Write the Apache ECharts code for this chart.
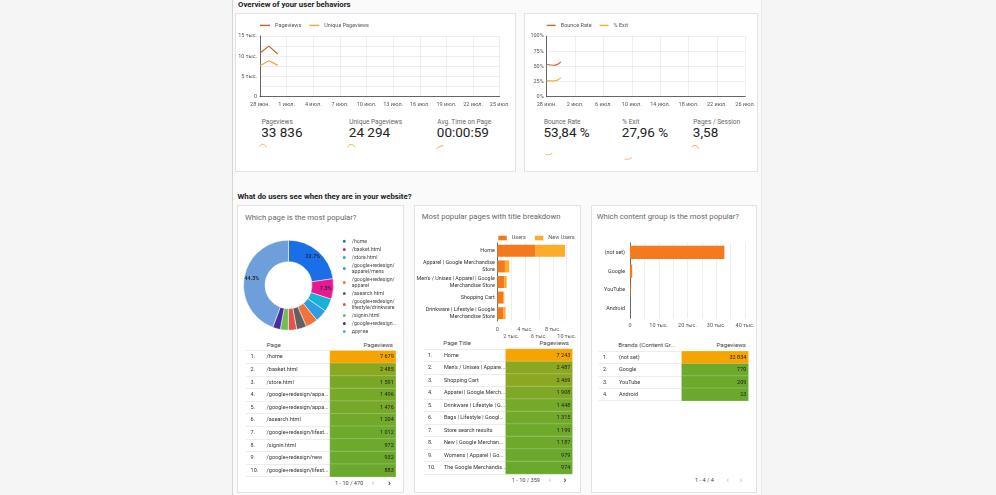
<!DOCTYPE html>
<html><head><meta charset="utf-8">
<script src="https://cdn.jsdelivr.net/npm/echarts@6/dist/echarts.min.js"></script>
<style>
html,body{margin:0;padding:0;width:996px;height:495px;overflow:hidden;background:#f5f5f5;font-family:Roboto,"Noto Sans",sans-serif;}
#panel{position:absolute;left:232px;top:0;width:528px;height:495px;background:#fafafa;border-left:1.5px solid #d6d6d6;border-right:1px solid #e8e8e8;}
.card{position:absolute;background:#fff;border:1px solid #e2e2e2;box-sizing:border-box;}
.t{position:absolute;white-space:nowrap;line-height:1;}
#chart{position:absolute;left:0;top:0;width:996px;height:495px;z-index:5;}
</style></head>
<body>
<div id="panel"></div>
<div id="chrome"></div>
<div id="chart"></div>
<script>
// ---------------- DATA ----------------
const lineDates1 = ['28 июн.','29 июн.','30 июн.','1 июл.','2 июл.','3 июл.','4 июл.','5 июл.','6 июл.','7 июл.','8 июл.','9 июл.','10 июл.','11 июл.','12 июл.','13 июл.','14 июл.','15 июл.','16 июл.','17 июл.','18 июл.','19 июл.','20 июл.','21 июл.','22 июл.','23 июл.','24 июл.','25 июл.'];
const lineDates2 = ['28 июн.','29 июн.','30 июн.','1 июл.','2 июл.','3 июл.','4 июл.','5 июл.','6 июл.','7 июл.','8 июл.','9 июл.','10 июл.','11 июл.','12 июл.','13 июл.','14 июл.','15 июл.','16 июл.','17 июл.','18 июл.','19 июл.','20 июл.','21 июл.','22 июл.','23 июл.','24 июл.','25 июл.','26 июл.'];
const pageviews = [10800, 12500, 10536];
const uniquePageviews = [7650, 8900, 7744];
const avgTimeSec = [50, 58, 61];
const bounceRate = [53.5, 51.8, 57.5];
const exitRate = [26.5, 26.0, 31.0];
const pagesPerSession = [3.55, 3.7, 3.45];

const kpiLabels1 = ['Pageviews', 'Unique Pageviews', 'Avg. Time on Page'];
const kpiValues1 = ['33 836', '24 294', '00:00:59'];
const kpiLabels2 = ['Bounce Rate', '% Exit', 'Pages / Session'];
const kpiValues2 = ['53,84 %', '27,96 %', '3,58'];

const pieNames = ['/home','/basket.html','/store.html','/google+redesign/apparel/mens','/google+redesign/apparel','/asearch.html','/google+redesign/lifestyle/drinkware','/signin.html','/google+redesign/new','другие'];
const pieLegendText = ['/home','/basket.html','/store.html','/google+redesign/\napparel/mens','/google+redesign/\napparel','/asearch.html','/google+redesign/\nlifestyle/drinkware','/signin.html','/google+redesign...','другие'];
const pieValues = [7679, 2485, 1591, 1496, 1476, 1204, 1012, 972, 932, 14989];

const t1Pages = ['/home','/basket.html','/store.html','/google+redesign/appa...','/google+redesign/appa...','/asearch.html','/google+redesign/lifest...','/signin.html','/google+redesign/new','/google+redesign/lifest...'];
const t1Views = [7679, 2485, 1591, 1496, 1476, 1204, 1012, 972, 932, 883];

const titleCats = ['Home','Apparel | Google Merchandise\nStore','Men\'s / Unisex | Apparel | Google\nMerchandise Store','Shopping Cart','Drinkware | Lifestyle | Google\nMerchandise Store'];
const usersVals = [5430, 1100, 1000, 860, 860];
const newUsersVals = [4320, 620, 350, 150, 330];

const t2Titles = ['Home','Men\'s / Unisex | Appare...','Shopping Cart','Apparel | Google Merch...','Drinkware | Lifestyle | G...','Bags | Lifestyle | Googl...','Store search results','New | Google Merchan...','Womens | Apparel | Go...','The Google Merchandis...'];
const t2Views = [7243, 2487, 2469, 1908, 1448, 1315, 1199, 1187, 979, 974];

const groupCats = ['(not set)','Google','YouTube','Android'];
const groupVals = [32834, 770, 209, 23];
const t3Brands = ['(not set)','Google','YouTube','Android'];
const t3Views = [32834, 770, 209, 23];

// ---------------- CHROME (cards & text) ----------------
const chrome = document.getElementById('chrome');
function card(l, t, w, h) { const d = document.createElement('div'); d.className = 'card'; Object.assign(d.style, {left: l+'px', top: t+'px', width: w+'px', height: h+'px'}); chrome.appendChild(d); }
function txt(s, x, cy, size, color, o) {
  o = o || {};
  const d = document.createElement('div'); d.className = 't'; d.textContent = s;
  Object.assign(d.style, {left: x+'px', top: (cy - size/2)+'px', fontSize: size+'px', color: color, fontWeight: o.bold ? '700' : '400'});
  if (o.right) d.style.transform = 'translateX(-100%)';
  chrome.appendChild(d);
}
card(235, 13, 281, 159);
card(523.5, 13, 234, 159);
card(236.5, 205, 167, 288);
card(413.5, 205, 167, 288);
card(591, 205, 166, 288);

txt('Overview of your user behaviors', 238, 4.6, 7.8, '#222', {bold: true});
txt('What do users see when they are in your website?', 237.5, 196.6, 7.8, '#222', {bold: true});
txt('Which page is the most popular?', 245, 217.7, 7.7, '#666');
txt('Most popular pages with title breakdown', 421.7, 216.7, 7.7, '#666');
txt('Which content group is the most popular?', 596.7, 216.7, 7.7, '#666');

[261.7, 349.3, 437.3].forEach((x, i) => { txt(kpiLabels1[i], x, 122.3, 6.5, '#666'); txt(kpiValues1[i], x - 0.5, 133, 13.5, '#222'); });
[544, 622.3, 693.3].forEach((x, i) => { txt(kpiLabels2[i], x, 122.3, 6.5, '#666'); txt(kpiValues2[i], x - 0.5, 133, 13.5, '#222'); });

txt('Page', 266.7, 345, 6.2, '#444'); txt('Pageviews', 393, 345, 6.2, '#444', {right: true});
txt('Page Title', 443.3, 343.5, 6.2, '#444'); txt('Pageviews', 569, 343.5, 6.2, '#444', {right: true});
txt('Brands (Content Gr...', 618.3, 345, 6.2, '#444'); txt('Pageviews', 746, 345, 6.2, '#444', {right: true});

txt('1 - 10 / 470', 335, 484, 5.6, '#444'); txt('‹', 371.5, 483.5, 9, '#bbb'); txt('›', 388, 483.5, 9, '#222', {bold: true});
txt('1 - 10 / 359', 511.7, 481, 5.6, '#444'); txt('‹', 548.5, 480.5, 9, '#bbb'); txt('›', 563.5, 480.5, 9, '#222', {bold: true});
txt('1 - 4 / 4', 695, 481, 5.6, '#444'); txt('‹', 726.3, 480.5, 9, '#bbb'); txt('›', 739.5, 480.5, 9, '#bbb');

// ---------------- CHART ----------------
const FONT = 'Roboto';
const lbl = {fontSize: 5.5, color: '#555', fontFamily: FONT};
const gridLine = {lineStyle: {color: '#e3e3e3', width: 0.6}};
const axisDark = {show: true, lineStyle: {color: '#444', width: 0.8}};
const grids = [], xAxes = [], yAxes = [], series = [], legends = [], visualMaps = [];
function addGrid(g, x, y) { grids.push(Object.assign({containLabel: false}, g)); const i = grids.length - 1; x.gridIndex = i; y.gridIndex = i; xAxes.push(x); yAxes.push(y); return i; }
const fmt = v => String(v).replace(/\B(?=(\d{3})+(?!\d))/g, ' ');

// Line chart 1
let g = addGrid({left: 260, top: 36, width: 239.7, height: 60.7},
  {type: 'category', data: lineDates1, boundaryGap: false, axisLine: axisDark, axisTick: {show: false}, axisLabel: Object.assign({interval: 2, margin: 4.5}, lbl), splitLine: Object.assign({show: true, interval: 2}, gridLine)},
  {type: 'value', min: 0, max: 15000, interval: 2500, axisLine: axisDark, axisTick: {show: false}, axisLabel: Object.assign({margin: 3, formatter: v => v % 5000 ? '' : (v ? (v/1000) + ' тыс.' : '0')}, lbl), splitLine: gridLine});
series.push({type: 'line', name: 'Pageviews', xAxisIndex: g, yAxisIndex: g, data: pageviews, symbol: 'none', lineStyle: {width: 1.2, color: '#c4622d'}, itemStyle: {color: '#c4622d'}});
series.push({type: 'line', name: 'Unique Pageviews', xAxisIndex: g, yAxisIndex: g, data: uniquePageviews, symbol: 'none', lineStyle: {width: 1.2, color: '#e9a83c'}, itemStyle: {color: '#e9a83c'}});
legends.push({data: ['Pageviews', 'Unique Pageviews'], left: 260, top: 22.4, padding: 0, icon: 'rect', itemWidth: 10, itemHeight: 1.4, itemGap: 8, textStyle: lbl, selectedMode: false});

// Line chart 2
g = addGrid({left: 546.7, top: 36, width: 198.5, height: 60.7},
  {type: 'category', data: lineDates2, boundaryGap: false, axisLine: axisDark, axisTick: {show: false}, axisLabel: Object.assign({interval: 3, margin: 4.5}, lbl), splitLine: Object.assign({show: true, interval: 3}, gridLine)},
  {type: 'value', min: 0, max: 100, interval: 25, axisLine: axisDark, axisTick: {show: false}, axisLabel: Object.assign({margin: 3, formatter: '{value}%'}, lbl), splitLine: gridLine});
series.push({type: 'line', name: 'Bounce Rate', xAxisIndex: g, yAxisIndex: g, data: bounceRate, smooth: true, symbol: 'none', lineStyle: {width: 1.2, color: '#c8693a'}, itemStyle: {color: '#c8693a'}});
series.push({type: 'line', name: '% Exit', xAxisIndex: g, yAxisIndex: g, data: exitRate, smooth: true, symbol: 'none', lineStyle: {width: 1.2, color: '#eab134'}, itemStyle: {color: '#eab134'}});
legends.push({data: ['Bounce Rate', '% Exit'], left: 546.7, top: 22.4, padding: 0, icon: 'rect', itemWidth: 9, itemHeight: 1.4, itemGap: 8, textStyle: lbl, selectedMode: false});

// Sparklines
const sparks = [
  [pageviews, 259.3, 144, 7, 3.3],
  [uniquePageviews, 347.5, 144.3, 7.5, 3],
  [avgTimeSec, 436.3, 145.5, 7, 3.5],
  [bounceRate, 545.3, 152.7, 7, 2.3],
  [exitRate, 624.5, 157.3, 7.5, 2],
  [pagesPerSession, 691.5, 145.3, 7, 3.5]
];
sparks.forEach(s => {
  const gi = addGrid({left: s[1], top: s[2], width: s[3], height: s[4]},
    {type: 'category', data: s[0].map((_, i) => i), boundaryGap: false, show: false},
    {type: 'value', min: 'dataMin', max: 'dataMax', show: false});
  series.push({type: 'line', xAxisIndex: gi, yAxisIndex: gi, data: s[0], smooth: true, symbol: 'none', lineStyle: {width: 0.9, color: '#e6a542'}, silent: true});
});

// Pie
const pieColors = ['#1a6fe8', '#e8198f', '#17b2d6', '#2f9de0', '#f2733a', '#616161', '#e2534e', '#6cbf58', '#4b2c9c', '#6e9fda'];
series.push({type: 'pie', name: 'pages', center: [288.5, 285.2], radius: [23.5, 45], startAngle: 90, clockwise: true, avoidLabelOverlap: false,
  data: pieNames.map((n, i) => ({name: n, value: pieValues[i], itemStyle: {color: pieColors[i]}})),
  label: {position: 'inside', formatter: p => p.percent >= 5 ? p.percent.toFixed(1) + '%' : '', fontSize: 5.3, color: '#1d2a3a', fontWeight: 'bold', fontFamily: FONT},
  labelLine: {show: false}, itemStyle: {borderColor: '#fff', borderWidth: 0.5}, emphasis: {disabled: true}, silent: true});
legends.push({data: pieNames, orient: 'vertical', left: 340.8, top: 237.8, padding: 0, icon: 'circle', itemWidth: 5, itemHeight: 5, itemGap: 1.1, selectedMode: false,
  formatter: n => pieLegendText[pieNames.indexOf(n)], textStyle: {fontSize: 5.2, lineHeight: 6.4, color: '#444', fontFamily: FONT}});

// Middle stacked bar (two label rows: 0/4/8 on first row, 2/6/10 on second row)
const midFmt = v => v ? (v/1000) + ' тыс.' : '0';
const gMid = addGrid({left: 497.3, top: 243, width: 69.4, height: 78},
  {type: 'value', min: 0, max: 10000, interval: 2000, axisLine: {show: false}, axisTick: {show: false},
   axisLabel: Object.assign({margin: 5.5, formatter: v => (v/2000) % 2 ? '' : midFmt(v)}, lbl), splitLine: gridLine},
  {type: 'category', data: titleCats, inverse: true, axisLine: axisDark, axisTick: {show: false}, axisLabel: {fontSize: 5.4, lineHeight: 6.8, color: '#333', margin: 2.5, fontFamily: FONT}});
series.push({type: 'bar', name: 'Users', stack: 'u', xAxisIndex: gMid, yAxisIndex: gMid, data: usersVals, barWidth: 12, itemStyle: {color: '#f27a1c'}, silent: true});
series.push({type: 'bar', name: 'New Users', stack: 'u', xAxisIndex: gMid, yAxisIndex: gMid, data: newUsersVals, barWidth: 12, itemStyle: {color: '#fcab2b'}, silent: true});
legends.push({data: ['Users', 'New Users'], left: 498.3, top: 235, padding: 0, icon: 'rect', itemWidth: 8.5, itemHeight: 4.5, itemGap: 9, textStyle: lbl, selectedMode: false});

// Right bar
g = addGrid({left: 630, top: 243, width: 115, height: 75.3},
  {type: 'value', min: 0, max: 40000, interval: 5000, axisLine: {show: false}, axisTick: {show: false},
   axisLabel: Object.assign({margin: 4, showMaxLabel: true, formatter: v => v % 10000 ? '' : (v ? (v/1000) + ' тыс.' : '0')}, lbl), splitLine: gridLine},
  {type: 'category', data: groupCats, inverse: true, axisLine: axisDark, axisTick: {show: false}, axisLabel: {fontSize: 5.4, color: '#333', margin: 5, fontFamily: FONT}});
series.push({type: 'bar', name: 'Pageviews by group', xAxisIndex: g, yAxisIndex: g, data: groupVals, barWidth: 13.3, itemStyle: {color: '#f47a1f'}, silent: true});

// Tables
function addTable(names, vals, textLeft, heatLeft, heatRight, top, height) {
  const idx = names.map((_, i) => String(i));
  addGrid({left: textLeft, top: top, width: heatLeft - textLeft, height: height},
    {type: 'value', show: false},
    {type: 'category', data: idx, inverse: true, axisLine: {show: false}, axisTick: {show: false},
     splitLine: {show: true, lineStyle: {color: '#e4e4e4', width: 0.7}},
     axisLabel: {inside: true, align: 'left', margin: 4.6, interval: 0, formatter: v => '{n|' + (+v + 1) + '.}{t|' + names[+v] + '}',
       rich: {n: {width: 16, fontSize: 5.5, color: '#333', fontFamily: FONT}, t: {fontSize: 5.5, color: '#333', fontFamily: FONT}}}});
  const gh = addGrid({left: heatLeft, top: top, width: heatRight - heatLeft, height: height},
    {type: 'category', data: ['Pageviews'], show: false},
    {type: 'category', data: idx, inverse: true, show: false});
  series.push({type: 'heatmap', xAxisIndex: gh, yAxisIndex: gh, data: vals.map((v, i) => [0, i, v]), silent: true,
    label: {show: true, position: 'insideRight', distance: 2.5, formatter: p => fmt(p.value[2]), fontSize: 5.5, color: '#222', fontFamily: FONT},
    itemStyle: {borderColor: 'rgba(255,255,255,0.35)', borderWidth: 0.6}, emphasis: {disabled: true}});
  visualMaps.push({type: 'continuous', show: false, seriesIndex: series.length - 1, dimension: 2, min: Math.min(...vals), max: Math.max(...vals), inRange: {color: ['#6aa92d', '#f6a400']}});
}
addTable(t1Pages, t1Views, 246, 330, 395.7, 350.7, 126);
addTable(t2Titles, t2Views, 423.3, 505.7, 572.3, 349, 125);
addTable(t3Brands, t3Views, 598.3, 681.7, 748.3, 351.3, 49.4);

// Second label row of the middle bar chart's value axis
xAxes.push({type: 'value', gridIndex: gMid, position: 'bottom', min: 0, max: 10000, interval: 2000, axisLine: {show: false}, axisTick: {show: false}, splitLine: {show: false},
  axisLabel: Object.assign({margin: 12.2, showMaxLabel: true, formatter: v => (v/2000) % 2 ? midFmt(v) : ''}, lbl)});

const chart = echarts.init(document.getElementById('chart'), null, {renderer: 'canvas'});
chart.setOption({
  backgroundColor: 'transparent', animation: false, textStyle: {fontFamily: FONT},
  grid: grids, xAxis: xAxes, yAxis: yAxes, series: series, legend: legends, visualMap: visualMaps
});
</script>
</body></html>
